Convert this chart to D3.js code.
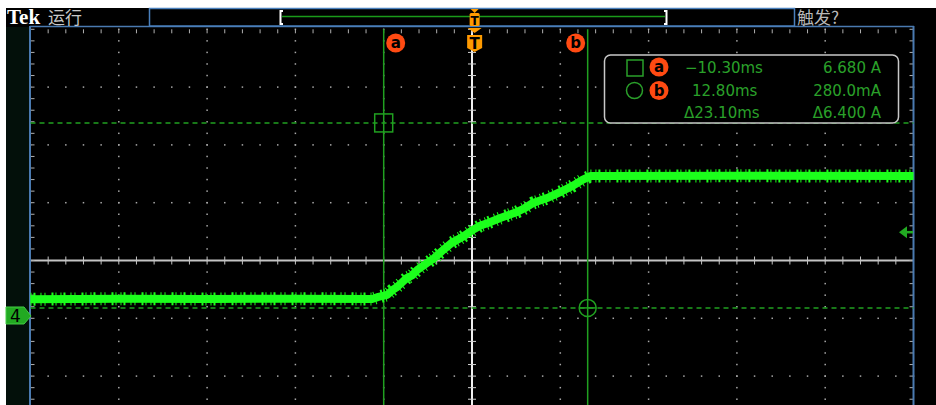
<!DOCTYPE html>
<html>
<head>
<meta charset="utf-8">
<script src="https://cdn.jsdelivr.net/npm/d3@7"></script>
<style>
  body { margin: 0; background: #fff; }
  svg { display: block; }
</style>
</head>
<body>
<div id="scope"></div>
<script>
var width = 936,
    height = 405;

// trace: time (ms) and current (A)
var traceTime = [-50.3, -40, -30, -20, -11.6, -10.9, -9.9, -9.3, -8.8, -7.7, -7.1, -6.5, -5.4, -4.6, -3.7, -2.6, -1.4, -0.2, 0.6, 1.5, 2.9, 4.8, 5.6, 6.6, 8.2, 9.7, 11.1, 12.2, 13.1, 14.2, 30, 49.7];
var traceAmp  = [0.58, 0.60, 0.59, 0.60, 0.59, 0.66, 0.73, 0.90, 1.00, 1.31, 1.40, 1.59, 1.83, 2.00, 2.25, 2.53, 2.73, 2.98, 3.12, 3.22, 3.39, 3.60, 3.72, 3.91, 4.08, 4.29, 4.50, 4.71, 4.84, 4.84, 4.85, 4.84];

// cursors
var cursorTimes = [-10.30, 12.80];
var cursorAmps = [6.680, 0.280];
var cursorNames = ["a", "b"];
var readoutTime = ["\u221210.30ms", "12.80ms", "\u039423.10ms"];
var readoutAmp = ["6.680 A", "280.0mA", "\u03946.400 A"];

var trigLevel = 2.9;     // A
var msPerDiv = 10, ampPerDiv = 2;
var centerTime = -0.3, centerAmp = 1.92;

// graticule in screen space
var gx = d3.scaleLinear().domain([0, 10]).range([30.5, 913.5]);
var gy = d3.scaleLinear().domain([0, 8]).range([29.3, 491.7]);

var x = d3.scaleLinear()
    .domain([centerTime - 5 * msPerDiv, centerTime + 5 * msPerDiv])
    .range(gx.range());
var y = d3.scaleLinear()
    .domain([centerAmp - 4 * ampPerDiv, centerAmp + 4 * ampPerDiv])
    .range([gy(8), gy(0)]);

var sans = "DejaVu Sans, sans-serif";
var cjk = "Noto Sans CJK SC, sans-serif";

var svg = d3.select("#scope").append("svg")
    .attr("width", width)
    .attr("height", height);

svg.append("rect").attr("width", width).attr("height", height).attr("fill", "#fff");
svg.append("rect").attr("x", 6).attr("y", 8).attr("width", width - 6).attr("height", height - 8).attr("fill", "#000");
svg.append("rect").attr("x", 6).attr("y", 27).attr("width", 24).attr("height", height - 27).attr("fill", "#03100a");

// ---- graticule ----
var grid = svg.append("g");
var minorX = d3.range(0, 50.01, 1).map(function(i) { return i / 5; });
var minorY = d3.range(0, 40.01, 1).map(function(i) { return i / 5; });

[1, 2, 3, 4, 6, 7, 8, 9].forEach(function(k) {
  grid.selectAll(null).data(minorY).enter().append("rect")
    .attr("x", gx(k) - 0.75).attr("y", function(d) { return gy(d) - 0.75; })
    .attr("width", 1.5).attr("height", 1.5).attr("fill", "#a8a8a8");
});
[1, 2, 3, 5, 6, 7].forEach(function(k) {
  grid.selectAll(null).data(minorX).enter().append("rect")
    .attr("x", function(d) { return gx(d) - 0.75; }).attr("y", gy(k) - 0.75)
    .attr("width", 1.5).attr("height", 1.5).attr("fill", "#a8a8a8");
});

// center cross with ticks
grid.append("line").attr("x1", gx(0)).attr("x2", gx(10)).attr("y1", gy(4)).attr("y2", gy(4))
  .attr("stroke", "#c4c4c4").attr("stroke-width", 2);
grid.selectAll(null).data(minorX).enter().append("line")
  .attr("x1", function(d) { return gx(d); }).attr("x2", function(d) { return gx(d); })
  .attr("y1", gy(4) - 4).attr("y2", gy(4) + 4).attr("stroke", "#c4c4c4");
grid.append("line").attr("x1", gx(5)).attr("x2", gx(5)).attr("y1", gy(0)).attr("y2", height)
  .attr("stroke", "#f0f0f0").attr("stroke-width", 2);
grid.selectAll(null).data(minorY).enter().append("line")
  .attr("x1", gx(5) - 4).attr("x2", gx(5) + 4)
  .attr("y1", function(d) { return gy(d); }).attr("y2", function(d) { return gy(d); })
  .attr("stroke", "#d0d0d0");

// edge ticks
grid.selectAll(null).data(minorY).enter().append("line")
  .attr("x1", gx(0)).attr("x2", gx(0) + 4)
  .attr("y1", function(d) { return gy(d); }).attr("y2", function(d) { return gy(d); })
  .attr("stroke", "#b0b0b0");
grid.selectAll(null).data(minorY).enter().append("line")
  .attr("x1", gx(10) - 4).attr("x2", gx(10))
  .attr("y1", function(d) { return gy(d); }).attr("y2", function(d) { return gy(d); })
  .attr("stroke", "#b0b0b0");
grid.selectAll(null).data(minorX).enter().append("line")
  .attr("x1", function(d) { return gx(d); }).attr("x2", function(d) { return gx(d); })
  .attr("y1", gy(0)).attr("y2", gy(0) + 4)
  .attr("stroke", "#b0b0b0");

// frame
svg.append("line").attr("x1", 30).attr("x2", 30).attr("y1", 26).attr("y2", height).attr("stroke", "#4a7ab0").attr("stroke-width", 2);
svg.append("line").attr("x1", 913.5).attr("x2", 913.5).attr("y1", 26).attr("y2", height).attr("stroke", "#4a7ab0").attr("stroke-width", 2);
svg.append("line").attr("x1", 30).attr("x2", 914).attr("y1", 26.5).attr("y2", 26.5).attr("stroke", "#4a7ab0").attr("stroke-width", 1.5);

// ---- cursors ----
var curColor = "#20a020";
cursorTimes.forEach(function(t) {
  svg.append("line").attr("x1", x(t)).attr("x2", x(t)).attr("y1", gy(0)).attr("y2", height)
    .attr("stroke", curColor).attr("stroke-width", 1.5);
});
cursorAmps.forEach(function(a) {
  svg.append("line").attr("x1", gx(0)).attr("x2", gx(10)).attr("y1", y(a)).attr("y2", y(a))
    .attr("stroke", curColor).attr("stroke-width", 1.5).attr("stroke-dasharray", "5,4");
});
svg.append("rect").attr("x", x(cursorTimes[0]) - 9).attr("y", y(cursorAmps[0]) - 9)
  .attr("width", 18).attr("height", 18).attr("fill", "none").attr("stroke", curColor).attr("stroke-width", 1.5);
svg.append("circle").attr("cx", x(cursorTimes[1])).attr("cy", y(cursorAmps[1])).attr("r", 8.5)
  .attr("fill", "none").attr("stroke", curColor).attr("stroke-width", 1.5);
svg.append("line").attr("x1", x(cursorTimes[1]) - 8.5).attr("x2", x(cursorTimes[1]) + 8.5)
  .attr("y1", y(cursorAmps[1])).attr("y2", y(cursorAmps[1])).attr("stroke", curColor).attr("stroke-width", 1.5);

function badge(g, cx, cy, letter) {
  g.append("circle").attr("cx", cx).attr("cy", cy).attr("r", 9.5).attr("fill", "#ff4a12");
  g.append("text").attr("x", cx).attr("y", cy + 5).attr("text-anchor", "middle")
    .style("font-family", sans).attr("font-size", 15).attr("font-weight", "bold").attr("fill", "#000").text(letter);
}
badge(svg, x(cursorTimes[0]) + 12, 43, cursorNames[0]);
badge(svg, x(cursorTimes[1]) - 12, 43, cursorNames[1]);

// ---- trace ----
var traceData = traceTime.map(function(t, i) { return [t, traceAmp[i]]; });
var line = d3.line().x(function(d) { return x(d[0]); }).y(function(d) { return y(d[1]); });
svg.append("path").datum(traceData).attr("d", line)
  .attr("fill", "none").attr("stroke", "#1cff1c").attr("stroke-width", 8).attr("stroke-linejoin", "round");
svg.append("path").datum(traceData).attr("d", line)
  .attr("fill", "none").attr("stroke", "#1cff1c").attr("stroke-width", 13)
  .attr("stroke-dasharray", "1,2,2,5,1,3,1,6,2,2,1,4");

// ---- trigger markers ----
var orange = "#ff9a00";
var tx = x(0);
svg.append("path").attr("d", "M" + (tx - 7) + ",28 L" + (tx + 7) + ",28 L" + tx + ",33 Z").attr("fill", orange);
svg.append("path").attr("d", "M" + (tx - 7.5) + ",35 L" + (tx + 7.5) + ",35 L" + (tx + 7.5) + ",48 L" + tx + ",52 L" + (tx - 7.5) + ",48 Z")
  .attr("fill", orange);
svg.append("text").attr("x", tx).attr("y", 49).attr("text-anchor", "middle").attr("font-size", 15)
  .style("font-family", sans).attr("font-weight", "bold").attr("fill", "#000").text("T");

// trigger level marker (right)
var ty = y(trigLevel);
svg.append("path").attr("d", "M899," + ty + " L907," + (ty - 6) + " L907," + (ty + 6) + " Z")
  .attr("fill", "#22aa22");
svg.append("line").attr("x1", 906).attr("x2", 913).attr("y1", ty).attr("y2", ty)
  .attr("stroke", "#22aa22").attr("stroke-width", 2.5);

// channel ground marker
var gz = y(0);
svg.append("path").attr("d", "M6," + (gz - 9) + " L24," + (gz - 9) + " L31," + gz + " L24," + (gz + 8) + " L6," + (gz + 8) + " Z")
  .attr("fill", "#22aa22").attr("stroke", "#44cc44");
svg.append("text").attr("x", 15.5).attr("y", gz + 6.5).attr("text-anchor", "middle").attr("font-size", 17)
  .style("font-family", sans).attr("fill", "#000").text("4");

// ---- header ----
svg.append("text").attr("x", 7).attr("y", 24).style("font-family", "Liberation Serif, serif")
  .attr("font-weight", "bold").attr("font-size", 21).attr("fill", "#fff").text("Tek");
svg.append("text").attr("x", 48).attr("y", 24).style("font-family", cjk)
  .attr("font-size", 17).attr("fill", "#c8c8c8").text("运行");
svg.append("text").attr("x", 797).attr("y", 24).style("font-family", cjk)
  .attr("font-size", 17).attr("fill", "#b8b8b8").text("触发?");

svg.append("rect").attr("x", 149.5).attr("y", 8.5).attr("width", 645).attr("height", 17.5)
  .attr("fill", "#000").attr("stroke", "#4a80bd").attr("stroke-width", 1.5);
svg.append("line").attr("x1", 282).attr("x2", 665).attr("y1", 16.5).attr("y2", 16.5)
  .attr("stroke", "#1a9a1a").attr("stroke-width", 1.5);
svg.append("path").attr("d", "M283,11 L280.5,11 L280.5,24 L283,24").attr("fill", "none").attr("stroke", "#fff").attr("stroke-width", 2);
svg.append("path").attr("d", "M664,11 L666.5,11 L666.5,24 L664,24").attr("fill", "none").attr("stroke", "#fff").attr("stroke-width", 2);
svg.append("path").attr("d", "M" + (tx - 4) + ",9 L" + (tx + 4) + ",9 L" + tx + ",13 Z").attr("fill", orange);
svg.append("rect").attr("x", tx - 5).attr("y", 13).attr("width", 10).attr("height", 13).attr("rx", 1.5).attr("fill", orange);
svg.append("text").attr("x", tx).attr("y", 24.5).attr("text-anchor", "middle").attr("font-size", 12)
  .style("font-family", sans).attr("font-weight", "bold").attr("fill", "#000").text("T");

// ---- readout ----
var ro = svg.append("g");
var txtColor = "#2aa02a";
ro.append("rect").attr("x", 604.5).attr("y", 55).attr("width", 294).attr("height", 68).attr("rx", 6)
  .attr("fill", "#000").attr("stroke", "#c8c8c8").attr("stroke-width", 1.5);
ro.append("rect").attr("x", 627).attr("y", 60).attr("width", 16).attr("height", 16)
  .attr("fill", "none").attr("stroke", txtColor).attr("stroke-width", 1.5);
ro.append("circle").attr("cx", 634.5).attr("cy", 90.5).attr("r", 8)
  .attr("fill", "none").attr("stroke", txtColor).attr("stroke-width", 1.5);
badge(ro, 659, 67, cursorNames[0]);
badge(ro, 659, 90.5, cursorNames[1]);
var rowY = [73, 96, 118];
var timeX = [685, 692, 684];
ro.selectAll(null).data(readoutTime).enter().append("text")
  .attr("x", function(d, i) { return timeX[i]; }).attr("y", function(d, i) { return rowY[i]; })
  .style("font-family", sans).attr("font-size", 15).attr("fill", txtColor).text(function(d) { return d; });
ro.selectAll(null).data(readoutAmp).enter().append("text")
  .attr("x", 881).attr("y", function(d, i) { return rowY[i]; }).attr("text-anchor", "end")
  .style("font-family", sans).attr("font-size", 15).attr("fill", txtColor).text(function(d) { return d; });
</script>
</body>
</html>
